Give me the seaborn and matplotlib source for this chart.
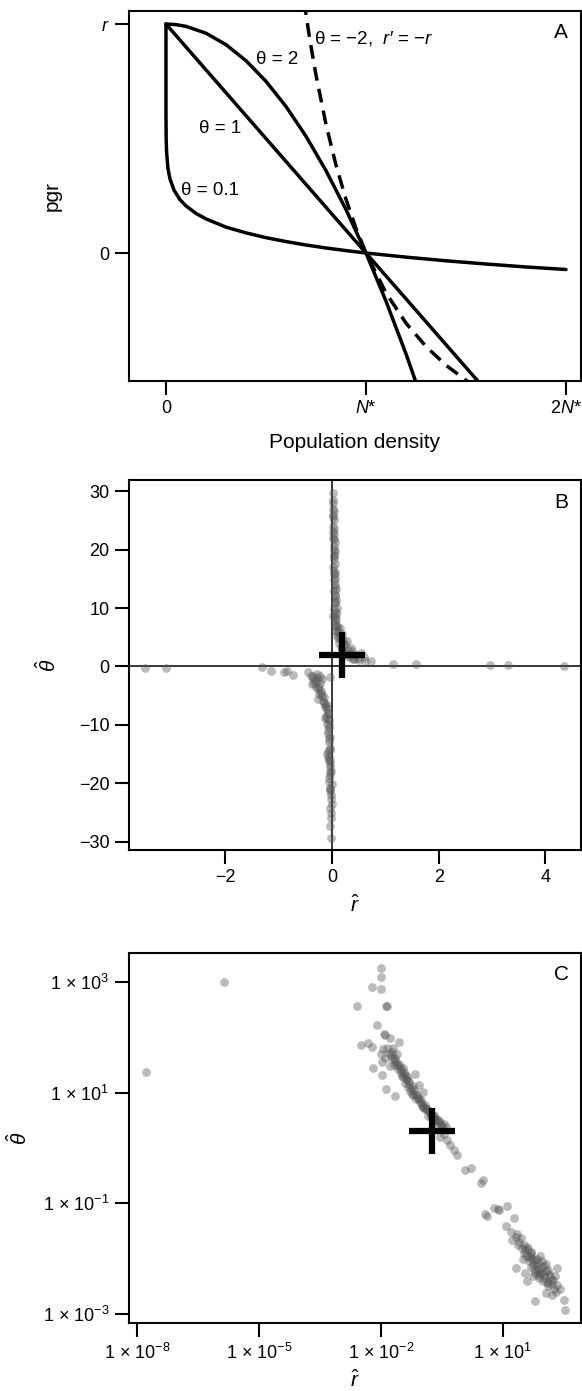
import numpy as np
import pandas as pd
import matplotlib
matplotlib.use('Agg')
import matplotlib.pyplot as plt
import seaborn as sns

#%% data

# panel A: pgr (in units of r) against density (in units of N*)
n_theta2 = [0, 0.05, 0.1, 0.2, 0.3, 0.4, 0.5, 0.6, 0.7, 0.8, 0.9, 1.0, 1.1, 1.2, 1.3]
pgr_theta2 = [1, 0.9975, 0.99, 0.96, 0.91, 0.84, 0.75, 0.64, 0.51, 0.36, 0.19, 0, -0.21, -0.44, -0.69]
n_theta1 = [0, 1.0, 1.6]
pgr_theta1 = [1, 0, -0.6]
n_theta01 = [0, 0.0001, 0.001, 0.003, 0.01, 0.02, 0.04, 0.07, 0.1, 0.15, 0.2, 0.3, 0.4, 0.5,
             0.6, 0.7, 0.8, 0.9, 1.0, 1.2, 1.4, 1.6, 1.8, 2.0]
pgr_theta01 = [1, 0.602, 0.499, 0.441, 0.369, 0.324, 0.275, 0.233, 0.206, 0.173, 0.149, 0.113, 0.088,
               0.067, 0.050, 0.035, 0.022, 0.0105, 0, -0.018, -0.034, -0.048, -0.061, -0.072]
n_thetam2 = [0.69, 0.72, 0.75, 0.8, 0.85, 0.9, 0.95, 1.0, 1.1, 1.2, 1.3, 1.4, 1.5, 1.55]
pgr_thetam2 = [1.100, 0.929, 0.778, 0.5625, 0.384, 0.235, 0.108, 0, -0.174, -0.306, -0.408, -0.490, -0.556, -0.584]

# panel B: estimates on linear axes
r_b = [0.02, 0.01, 0.02, 0.03, 0.02, 0.03, 0.04, 0.06, 0.04, 0.05, 0.03, 0.05, 0.04, 0.06, 0.05, 0.08,
       0.06, 0.07, 0.10, 0.01, 0.05, 0.14, 0.09, 0.18, 0.28, 0.35, 0.22, 0.55, 0.49, 0.30, 0.40, 0.73,
       0.62, 1.15, 1.57, 2.96, 3.31, 4.35,
       0.02, 0.03, 0.04, 0.04, 0.05, 0.06, 0.07, 0.08, 0.10, 0.12, 0.15, 0.20, 0.25, 0.30, 0.38, 0.45, 0.60,
       0.01, 0.02, 0.03, 0.01, 0.02, 0.04, 0.03, 0.02, 0.05, 0.04, 0.03, 0.06, 0.05, 0.04, 0.07, 0.06,
       0.05, 0.08, 0.07, 0.09, 0.11, 0.13, 0.16, 0.19, 0.24, 0.27, 0.33, 0.42, 0.50, 0.36,
       -3.50, -3.11, -1.31, -1.15, -0.91, -0.85, -0.73,
       -0.28, -0.35, -0.38, -0.31, -0.24, -0.26, -0.17, -0.10, -0.07, -0.14, -0.10, -0.07, -0.05, -0.03,
       -0.10, -0.07, -0.03, -0.02, -0.01, -0.03, -0.02, -0.01, -0.03, -0.02,
       -0.30, -0.25, -0.20, -0.15, -0.12, -0.08, -0.05, -0.06, -0.04, -0.08, -0.05, -0.04, -0.03, -0.05,
       -0.02, -0.04, -0.22, -0.18, -0.45, -0.40,
       -0.02, -0.03, -0.04, -0.05, -0.04, -0.06, -0.03, -0.05, -0.07, -0.06, -0.09, -0.11, -0.13, -0.16,
       -0.19, -0.21, -0.27, -0.33, -0.29, -0.23, -0.36, -0.12, -0.04, -0.03, -0.02]
theta_b = [29.6, 28.5, 27.0, 26.6, 24.1, 23.5, 22.7, 21.3, 20.6, 19.8, 18.4, 17.6, 16.4, 15.2, 14.1, 13.2,
           12.3, 11.4, 10.05, 8.6, 7.7, 6.6, 5.9, 5.5, 4.3, 3.2, 3.6, 2.3, 1.5, 1.8, 1.2, 0.9,
           1.0, 0.4, 0.4, 0.3, 0.3, 0.1,
           25.5, 21.8, 18.9, 15.8, 13.6, 10.9, 9.4, 8.1, 7.0, 6.2, 5.0, 4.6, 3.9, 2.8, 2.6, 2.0, 1.6,
           28.0, 26.0, 25.0, 23.0, 22.0, 20.0, 19.0, 17.0, 16.0, 14.8, 13.0, 12.0, 11.0, 9.8, 9.0, 8.4,
           7.3, 6.9, 6.0, 5.3, 4.8, 4.1, 3.4, 3.0, 2.4, 2.2, 1.6, 1.3, 1.1, 2.1,
           -0.29, -0.29, -0.17, -0.74, -1.0, -0.8, -1.43,
           -1.31, -2.17, -3.02, -3.59, -4.73, -5.48, -5.88, -7.30, -7.87, -8.73, -9.87, -11.0, -12.4, -13.9,
           -15.0, -15.6, -16.7, -17.9, -20.1, -21.3, -22.7, -23.6, -27.3, -29.3,
           -2.5, -3.5, -4.2, -5.2, -6.5, -8.0, -9.2, -10.5, -12.0, -14.5, -15.3, -17.2, -18.5, -19.0,
           -22.0, -1.8, -1.6, -2.2, -1.0, -1.6,
           -25.0, -24.2, -21.0, -19.8, -18.0, -16.2, -14.2, -13.0, -11.5, -10.0, -9.0, -8.4, -7.0, -6.2,
           -5.0, -4.5, -3.9, -2.8, -1.9, -2.9, -1.7, -6.8, -16.0, -20.8, -26.0]

# panel C: log10 of the positive estimates
log_r_c = [-7.79, -5.85,
           -1.99, -2.01, -2.21, -1.99, -2.59, -1.88, -1.85, -2.10, -1.92, -1.90, -1.78, -1.56, -2.50, -2.31,
           -2.21, -1.94, -1.74, -2.20, -1.97, -1.97, -1.88, -1.65, -1.16, -1.07, -0.96,
           -1.69, -1.60, -1.51, -1.46, -1.37, -1.33, -1.24, -1.14, -1.05, -0.96, -0.87, -0.78, -0.69, -0.60,
           -0.46,
           -1.65, -1.55, -1.50, -1.42, -1.40, -1.30, -1.28, -1.20, -1.18, -1.10, -1.00, -0.92, -0.90, -0.82,
           -0.75, -0.72, -0.65, -0.55, -0.50, -1.75, -1.60, -1.45, -1.35, -0.85, -0.62,
           -1.80, -1.72, -1.68, -1.62, -1.58, -1.52, -1.48, -1.44, -1.38, -1.32, -1.26, -1.22, -1.16, -1.12,
           -1.06, -1.02, -0.98, -0.94, -0.88, -0.80, -0.76, -0.70, -0.66, -0.58, -0.52, -1.85, -1.90, -1.70,
           -2.00, -1.78,
           -0.55, -0.41, -0.46, -0.29, -0.21, -0.12, -0.37,
           0.07, 0.21, 0.50, 0.47,
           0.56, 0.61, 0.78, 0.91, 0.88, 1.09, 1.28, 1.07,
           1.19, 1.32, 1.23, 1.37, 1.46, 1.60, 1.69, 1.51, 1.64, 1.78, 1.87, 1.96, 2.01, 2.05, 1.92, 1.83,
           2.15, 2.24, 2.10, 2.33, 2.28, 2.05, 1.78, 2.51, 2.53, 1.32, 1.55, 2.33, 1.73,
           1.40, 1.55, 1.70, 1.75, 1.85, 1.95, 2.00, 2.10, 2.20, 1.90, 1.65, 1.80, 2.25, 1.98, 2.12, 1.35,
           1.60, 2.40, 1.50,
           1.45, 1.52, 1.62, 1.68, 1.72, 1.82, 1.88, 1.94, 2.02, 2.08, 2.18, 2.14, 1.86, 1.76, 2.30, 2.20,
           1.58, 1.92, 2.06, 1.68]
log_theta_c = [1.38, 3.00,
               3.25, 3.09, 2.91, 2.87, 2.56, 2.57, 2.56, 2.22, 2.05, 2.04, 1.99, 1.91, 1.86, 1.90,
               1.82, 1.79, 1.73, 1.45, 1.55, 1.31, 1.07, 0.93, 1.33, 1.13, 1.01,
               1.58, 1.49, 1.40, 1.28, 1.22, 1.10, 0.98, 0.89, 0.83, 0.74, 0.68, 0.62, 0.56, 0.50,
               0.44,
               1.62, 1.52, 1.35, 1.32, 1.18, 1.15, 1.02, 0.95, 1.05, 0.90, 0.80, 0.78, 0.70, 0.66,
               0.60, 0.52, 0.52, 0.45, 0.38, 1.68, 1.70, 1.45, 1.30, 0.58, 0.40,
               1.72, 1.62, 1.50, 1.55, 1.42, 1.46, 1.30, 1.38, 1.25, 1.20, 1.08, 1.12, 0.98, 0.95,
               0.88, 0.86, 0.76, 0.72, 0.72, 0.64, 0.56, 0.60, 0.48, 0.48, 0.42, 1.80, 1.62, 1.80,
               1.70, 1.48,
               0.20, 0.38, 0.26, 0.05, -0.03, -0.12, 0.14,
               -0.39, -0.36, -0.58, -0.64,
               -1.20, -1.23, -1.08, -1.12, -1.10, -1.05, -1.26, -1.41,
               -1.51, -1.60, -1.66, -1.75, -1.81, -1.78, -1.87, -1.90, -1.96, -2.02, -2.08, -2.05, -2.14, -2.23,
               -2.26, -2.20, -2.32, -2.38, -2.44, -2.47, -2.32, -2.62, -2.77, -2.74, -2.92, -2.17, -2.26, -2.17,
               -2.32,
               -1.70, -1.85, -1.95, -2.10, -2.00, -2.15, -2.30, -2.20, -2.45, -2.35, -2.05, -2.25, -2.55, -2.40,
               -2.50, -1.55, -2.40, -2.55, -2.00,
               -1.62, -1.75, -1.82, -1.90, -2.00, -2.12, -2.18, -2.25, -2.35, -2.42, -2.38, -2.28, -2.30, -2.18,
               -2.60, -2.65, -1.95, -1.95, -2.10, -2.15]

# median estimate shown as a cross
r_cross = 0.18
theta_cross = 2.0

#%% style
sns.set_theme(style='ticks')
plt.rcParams['font.family'] = ['Liberation Sans', 'DejaVu Sans']
plt.rcParams['mathtext.fontset'] = 'custom'
plt.rcParams['mathtext.rm'] = 'Liberation Sans'
plt.rcParams['mathtext.it'] = 'Liberation Sans:italic'
plt.rcParams['mathtext.bf'] = 'Liberation Sans:bold'
plt.rcParams['text.color'] = 'black'
plt.rcParams['axes.labelcolor'] = 'black'
plt.rcParams['xtick.color'] = 'black'
plt.rcParams['ytick.color'] = 'black'

fs = 13        # tick labels
fs_lab = 15    # axis labels
fs_txt = 13.5  # annotations
pt_col = '#555555'

fig = plt.figure(figsize=(5.82, 13.91), dpi=100)
axA = fig.add_axes([0.2216, 0.7261, 0.7766, 0.2660])
axB = fig.add_axes([0.2216, 0.3889, 0.7766, 0.2660])
axC = fig.add_axes([0.2216, 0.0489, 0.7766, 0.2660])

for ax in (axA, axB, axC):
    ax.tick_params(direction='out', length=10, width=1.5, labelsize=fs, pad=4, colors='black')
    ax.minorticks_off()
    for s in ax.spines.values():
        s.set_linewidth(1.5)
        s.set_color('black')

#%% panel A
lw = 2.5
sns.lineplot(x=n_theta2, y=pgr_theta2, ax=axA, color='black', lw=lw, sort=False, estimator=None)
sns.lineplot(x=n_theta1, y=pgr_theta1, ax=axA, color='black', lw=lw, sort=False, estimator=None)
sns.lineplot(x=n_theta01, y=pgr_theta01, ax=axA, color='black', lw=lw, sort=False, estimator=None)
sns.lineplot(x=n_thetam2, y=pgr_thetam2, ax=axA, color='black', lw=lw, sort=False, estimator=None,
             linestyle=(0, (4, 2.4)))
for line in axA.lines:
    line.set_solid_capstyle('round')
    line.set_solid_joinstyle('round')

axA.set_xlim(-0.185, 2.075)
axA.set_ylim(-0.559, 1.057)
axA.set_xticks([0, 1, 2])
axA.set_xticklabels(['0', '$N$*', '2$N$*'])
axA.set_yticks([0, 1])
axA.set_yticklabels(['0', '$r$'])
axA.set_xlabel('Population density', fontsize=fs_lab)
axA.set_ylabel('pgr', fontsize=fs_lab)
axA.xaxis.set_label_coords(0.5, -0.165)
axA.xaxis.label.set_va('center')
axA.yaxis.set_label_coords(-0.17, 0.5)
axA.yaxis.label.set_va('center')

axA.text(0.555, 0.847, '\u03b8 = 2', fontsize=fs_txt, ha='center', va='center')
axA.text(0.27, 0.545, '\u03b8 = 1', fontsize=fs_txt, ha='center', va='center')
axA.text(0.22, 0.275, '\u03b8 = 0.1', fontsize=fs_txt, ha='center', va='center')
axA.text(0.74, 0.935, '\u03b8 = \u22122,  $r$\u2032 = \u2212$r$', fontsize=fs_txt, ha='left', va='center')
axA.text(0.956, 0.943, 'A', transform=axA.transAxes, fontsize=fs_lab, ha='center', va='center')

#%% panel B
axB.axhline(0, color='black', lw=1.1, zorder=1)
axB.axvline(0, color='black', lw=1.1, zorder=1)
dfB = pd.DataFrame({'r': r_b, 'theta': theta_b})
sns.scatterplot(data=dfB, x='r', y='theta', ax=axB, color=pt_col, alpha=0.4, s=40,
                linewidth=0, zorder=2)
axB.plot([r_cross], [theta_cross], marker='+', ms=33, mew=4.5, color='black', zorder=3)
axB.set_xlim(-3.81, 4.67)
axB.set_ylim(-31.4, 31.9)
axB.set_xticks([-2, 0, 2, 4])
axB.set_yticks([-30, -20, -10, 0, 10, 20, 30])
axB.set_xticklabels(['\u22122', '0', '2', '4'])
axB.set_yticklabels(['\u221230', '\u221220', '\u221210', '0', '10', '20', '30'])
axB.set_xlabel(r'$\hat{r}$', fontsize=fs_lab)
axB.set_ylabel(r'$\hat{\theta}$', fontsize=fs_lab)
axB.xaxis.set_label_coords(0.5, -0.15)
axB.xaxis.label.set_va('center')
axB.yaxis.set_label_coords(-0.179, 0.5)
axB.yaxis.label.set_va('center')
axB.text(0.956, 0.94, 'B', transform=axB.transAxes, fontsize=fs_lab, ha='center', va='center')

#%% panel C
dfC = pd.DataFrame({'r': 10.0 ** np.array(log_r_c), 'theta': 10.0 ** np.array(log_theta_c)})
sns.scatterplot(data=dfC, x='r', y='theta', ax=axC, color=pt_col, alpha=0.4, s=40,
                linewidth=0, zorder=2)
axC.plot([r_cross], [theta_cross], marker='+', ms=33, mew=4.5, color='black', zorder=3)
axC.set_xscale('log')
axC.set_yscale('log')
axC.set_xlim(10 ** -8.2, 10 ** 2.92)
axC.set_ylim(10 ** -3.16, 10 ** 3.52)
axC.set_xticks([1e-8, 1e-5, 1e-2, 1e1])
axC.set_xticklabels(['1 \u00d7 10$^{-8}$', '1 \u00d7 10$^{-5}$', '1 \u00d7 10$^{-2}$', '1 \u00d7 10$^{1}$'])
axC.set_yticks([1e-3, 1e-1, 1e1, 1e3])
axC.set_yticklabels(['1 \u00d7 10$^{-3}$', '1 \u00d7 10$^{-1}$', '1 \u00d7 10$^{1}$', '1 \u00d7 10$^{3}$'])
axC.minorticks_off()
axC.set_xlabel(r'$\hat{r}$', fontsize=fs_lab)
axC.set_ylabel(r'$\hat{\theta}$', fontsize=fs_lab)
axC.xaxis.set_label_coords(0.5, -0.155)
axC.xaxis.label.set_va('center')
axC.yaxis.set_label_coords(-0.245, 0.5)
axC.yaxis.label.set_va('center')
axC.text(0.956, 0.943, 'C', transform=axC.transAxes, fontsize=fs_lab, ha='center', va='center')

plt.savefig('out.png', dpi=100)
